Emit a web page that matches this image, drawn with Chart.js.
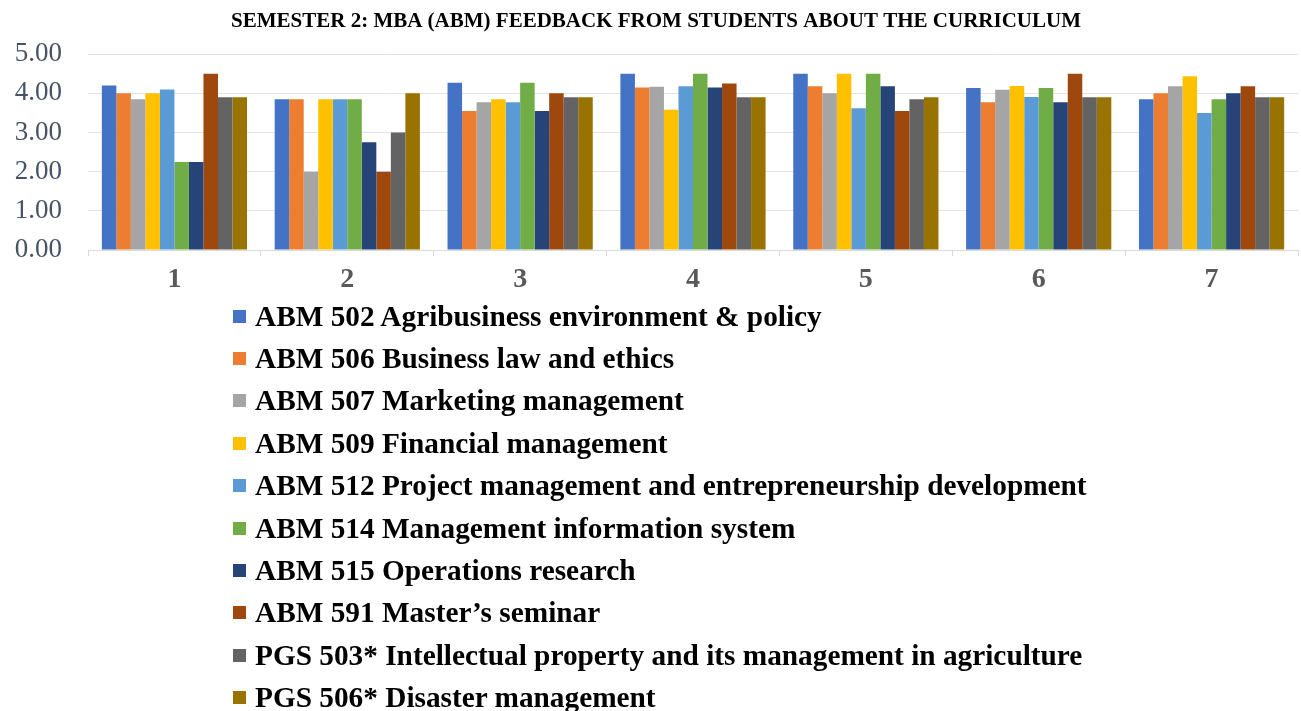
<!DOCTYPE html>
<html>
<head>
<meta charset="utf-8">
<script src="https://cdn.jsdelivr.net/npm/chart.js@4/dist/chart.umd.min.js"></script>
<style>
  html, body { margin: 0; padding: 0; background: #fff; }
  #wrap { position: relative; width: 1301px; height: 711px; overflow: hidden; }
  #chartBox { position: absolute; left: 0; top: 0; width: 1301px; height: 300px; }
  #legend { position: absolute; left: 233px; top: 295px; font-family: 'Liberation Serif', 'Times New Roman', serif; font-weight: bold; font-size: 29.3px; color: #000; }
  .item { height: 42.4px; display: flex; align-items: center; white-space: nowrap; }
  .box { width: 13px; height: 13px; margin-right: 9px; flex: none; }
</style>
</head>
<body>
<div id="wrap">
  <div id="chartBox"><canvas id="chart"></canvas></div>
  <div id="legend"></div>
</div>
<script>
// Datos
const categorias = ['1', '2', '3', '4', '5', '6', '7'];
const cursos = [
  'ABM 502 Agribusiness environment & policy',
  'ABM 506 Business law and ethics',
  'ABM 507 Marketing management',
  'ABM 509 Financial management',
  'ABM 512 Project management and entrepreneurship development',
  'ABM 514 Management information system',
  'ABM 515 Operations research',
  'ABM 591 Master\u2019s seminar',
  'PGS 503* Intellectual property and its management in agriculture',
  'PGS 506* Disaster management'
];
const abm502 = [4.20, 3.85, 4.27, 4.50, 4.50, 4.14, 3.85];
const abm506 = [4.00, 3.85, 3.55, 4.15, 4.18, 3.77, 4.00];
const abm507 = [3.85, 2.00, 3.77, 4.17, 4.00, 4.09, 4.18];
const abm509 = [4.00, 3.85, 3.85, 3.58, 4.50, 4.19, 4.44];
const abm512 = [4.10, 3.85, 3.77, 4.18, 3.62, 3.91, 3.50];
const abm514 = [2.25, 3.85, 4.27, 4.50, 4.50, 4.14, 3.85];
const abm515 = [2.25, 2.75, 3.55, 4.15, 4.18, 3.77, 4.00];
const abm591 = [4.50, 2.00, 4.00, 4.25, 3.55, 4.50, 4.18];
const pgs503 = [3.90, 3.00, 3.90, 3.90, 3.85, 3.90, 3.90];
const pgs506 = [3.90, 4.00, 3.90, 3.90, 3.90, 3.90, 3.90];
const yTicks = [0, 1, 2, 3, 4, 5];

const series = [abm502, abm506, abm507, abm509, abm512, abm514, abm515, abm591, pgs503, pgs506];
const colores = ['#4472C4', '#ED7D31', '#A5A5A5', '#FFC000', '#5B9BD5', '#70AD47', '#264478', '#9E480E', '#636363', '#997300'];

const datasets = series.map((d, i) => ({
  label: cursos[i],
  data: d,
  backgroundColor: colores[i],
  borderWidth: 0,
  categoryPercentage: 0.84,
  barPercentage: 1.0
}));

const serif = "'Liberation Serif', 'Times New Roman', serif";

const chart = new Chart(document.getElementById('chart').getContext('2d'), {
  type: 'bar',
  data: { labels: categorias, datasets },
  options: {
    responsive: true,
    maintainAspectRatio: false,
    animation: false,
    layout: { padding: { left: 14, right: 3, top: 0, bottom: 3 } },
    plugins: {
      legend: { display: false },
      tooltip: { enabled: false },
      title: {
        display: true,
        text: 'SEMESTER 2: MBA (ABM) FEEDBACK FROM STUDENTS ABOUT THE CURRICULUM',
        color: '#000',
        font: { family: serif, size: 21, weight: 'bold' },
        padding: { top: 9, bottom: 20 }
      }
    },
    scales: {
      x: {
        afterFit: (axis) => { axis.height = 47; },
        grid: { drawOnChartArea: false, drawTicks: true, tickLength: 6, offset: true, color: '#d9d9d9' },
        border: { color: '#d9d9d9', width: 1 },
        ticks: { color: '#595959', padding: 7, font: { family: serif, size: 28, weight: 'bold' } }
      },
      y: {
        min: 0,
        max: 5,
        afterBuildTicks: (axis) => { axis.ticks = yTicks.map(v => ({ value: v })); },
        afterFit: (axis) => { axis.width = 74; },
        grid: { color: '#e3e3e3', drawTicks: false },
        border: { display: false },
        ticks: {
          color: '#475466',
          padding: 26,
          font: { family: serif, size: 27 },
          callback: (v) => Number(v).toFixed(2)
        }
      }
    }
  }
});

// Leyenda en HTML, una por fila
const legend = document.getElementById('legend');
legend.innerHTML = chart.data.datasets.map(ds => `
  <div class="item"><span class="box" style="background:${ds.backgroundColor}"></span>${ds.label}</div>
`).join('');
</script>
</body>
</html>
